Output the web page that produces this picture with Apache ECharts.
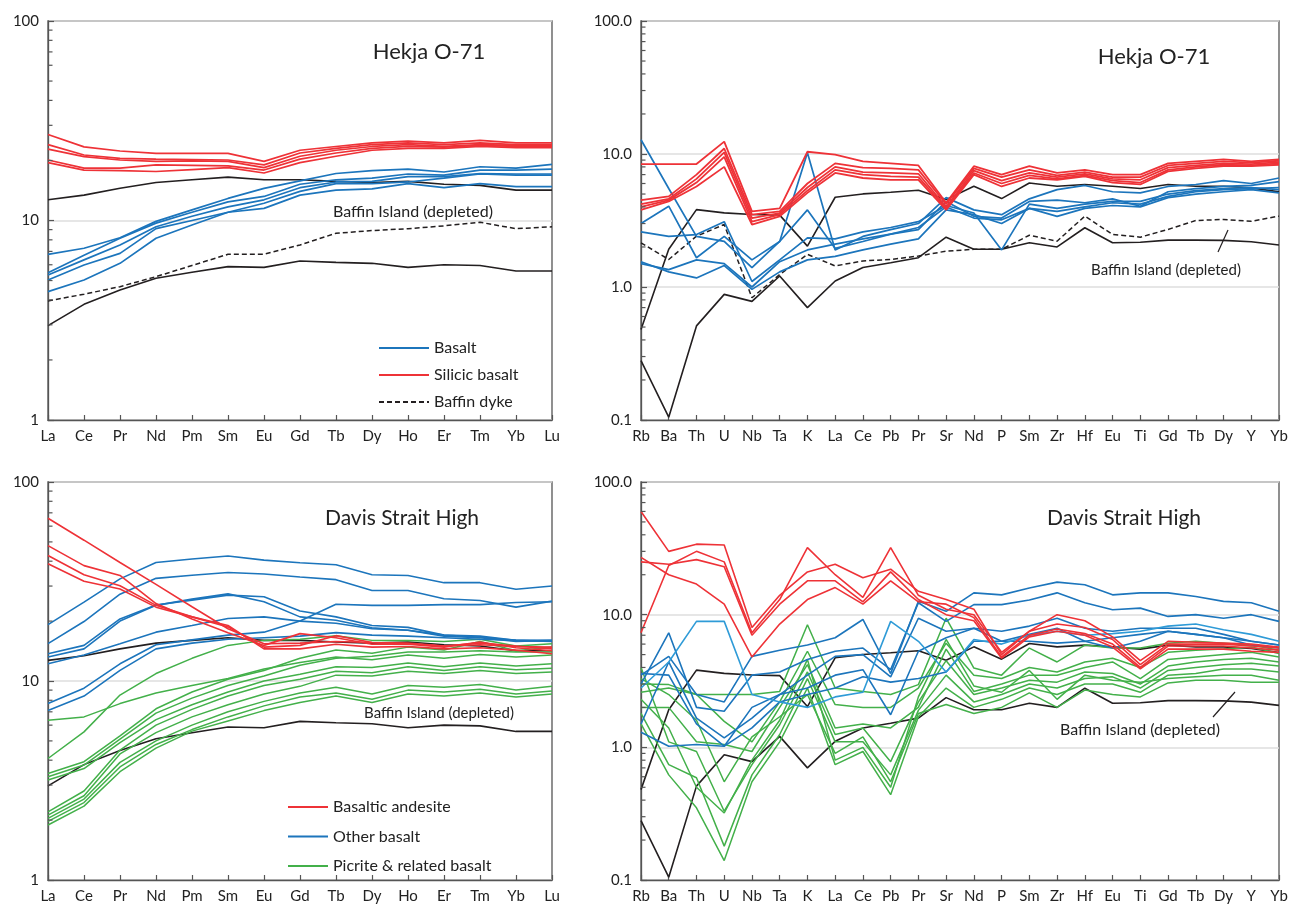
<!DOCTYPE html>
<html><head><meta charset="utf-8">
<script src="https://cdn.jsdelivr.net/npm/echarts@6/dist/echarts.min.js"></script>
<style>html,body{margin:0;padding:0;background:#fff}#c{width:1291px;height:907px}</style>
</head><body><div id="c"></div>
<script>
// ---------- categories ----------
const REE = ['La','Ce','Pr','Nd','Pm','Sm','Eu','Gd','Tb','Dy','Ho','Er','Tm','Yb','Lu'];
const SPIDER = ['Rb','Ba','Th','U','Nb','Ta','K','La','Ce','Pb','Pr','Sr','Nd','P','Sm','Zr','Hf','Eu','Ti','Gd','Tb','Dy','Y','Yb'];
const REE_TICKS = [1, 10, 100];
const SPIDER_TICKS = [0.1, 1, 10, 100];

// ---------- reference lines ----------
const baffinUpperRee = [12.7,13.4,14.5,15.5,16.0,16.5,16.0,16.0,15.7,15.5,15.7,15.2,15.0,14.2,14.2];
const baffinDepletedRee = [2.97,3.8,4.48,5.13,5.5,5.87,5.82,6.27,6.17,6.1,5.82,6.0,5.95,5.58,5.58];
const baffinUpperSpider = [0.48,1.92,3.82,3.61,3.51,3.47,2.03,4.73,5.01,5.16,5.34,4.54,5.72,4.62,6.06,5.72,5.89,5.72,5.5,5.89,5.72,5.72,5.56,5.19];
const baffinDepletedSpider = [0.28,0.105,0.51,0.88,0.78,1.21,0.70,1.11,1.40,1.52,1.66,2.37,1.92,1.92,2.15,2.0,2.79,2.15,2.17,2.25,2.25,2.24,2.19,2.07];
const baffinDykeRee = [3.95,4.27,4.66,5.23,5.95,6.77,6.77,7.54,8.63,8.9,9.1,9.4,9.8,9.1,9.3];
const baffinDykeSpider = [2.15,1.61,2.41,2.95,0.83,1.24,1.76,1.44,1.57,1.61,1.71,1.86,1.92,1.92,2.45,2.21,3.41,2.48,2.37,2.71,3.16,3.22,3.12,3.41];

// ---------- Hekja O-71 ----------
const hekjaReeBasalt = [
 [6.77,7.26,8.2,9.9,11.3,12.9,14.5,15.8,17.2,17.8,18.1,17.5,18.6,18.3,19.1],
 [5.47,6.7,8.15,9.7,11.0,12.4,13.2,15.2,16.0,16.3,17.1,16.9,17.9,17.9,18.1],
 [5.33,6.35,7.54,9.3,10.5,11.7,12.7,14.6,15.6,15.7,16.6,16.6,17.2,17.1,17.1],
 [5.03,5.98,6.84,9.1,10.0,11.0,12.2,14.0,15.3,15.3,15.6,16.3,17.1,16.9,16.9],
 [4.4,5.03,6.1,8.15,9.5,11.0,11.5,13.4,14.2,14.4,15.3,14.6,15.3,14.8,14.8]
];
const hekjaReeSilicic = [
 [27,23.4,22.3,21.7,21.7,21.7,19.8,22.5,23.5,24.5,25,24.5,25.2,24.5,24.5],
 [24,21.3,20.5,20.3,20.2,20.1,19.0,21.8,23,24,24.5,24,24.5,24,24],
 [22.8,20.9,20.1,19.8,19.9,19.8,18.4,21,22.5,23.5,24,23.5,24,23.8,23.8],
 [20.1,18.3,18.3,19.0,18.9,18.8,17.9,20.3,21.8,23,23.5,23.3,23.8,23.5,23.5],
 [19.5,17.9,17.8,17.6,18.0,18.4,17.3,19.5,21,22.5,23,23,23.5,23.2,23.2]
];
const hekjaSpiderBasalt = [
 [12.8,5.5,2.4,2.2,1.4,2.2,10.2,1.9,2.4,2.7,3.0,4.7,3.8,3.5,4.6,5.4,5.8,5.2,5.1,5.7,5.9,6.3,6.0,6.6],
 [3.0,4.05,1.66,2.4,1.6,2.2,3.8,1.95,2.2,2.5,2.7,4.4,3.4,3.3,4.4,4.5,4.3,4.6,4.05,5.2,5.5,5.7,5.8,6.2],
 [2.6,2.4,2.48,3.1,1.1,1.6,2.34,2.3,2.6,2.8,3.1,4.1,3.6,1.9,4.2,3.9,4.2,4.4,4.4,5.0,5.3,5.5,5.6,5.4],
 [1.5,1.35,1.6,1.5,1.0,1.55,1.9,2.1,2.3,2.5,2.8,4.0,3.3,3.2,3.9,3.7,4.0,4.3,4.2,4.8,5.2,5.4,5.5,5.6],
 [1.55,1.3,1.17,1.45,0.96,1.3,1.6,1.7,1.9,2.1,2.3,3.8,3.5,3.0,3.9,3.4,3.9,4.1,4.0,4.7,5.0,5.2,5.4,5.1]
];
const hekjaSpiderSilicic = [
 [8.4,8.4,8.4,12.4,3.7,3.9,10.4,9.9,8.8,8.5,8.2,4.3,8.1,7.0,8.1,7.2,7.6,7.0,7.0,8.5,8.8,9.1,8.8,9.1],
 [4.5,4.8,7.0,11.0,3.5,3.7,6.0,8.5,7.9,7.8,7.6,4.2,7.8,6.7,7.6,6.9,7.3,6.7,6.7,8.2,8.5,8.8,8.6,8.9],
 [4.2,4.6,6.5,10.3,3.3,3.6,5.6,8.0,7.3,7.2,7.1,4.0,7.5,6.3,7.2,6.7,7.1,6.5,6.4,7.9,8.2,8.5,8.4,8.7],
 [4.0,4.5,6.1,9.5,3.1,3.5,5.3,7.6,7.0,6.8,6.7,3.9,7.2,6.0,6.9,6.5,6.9,6.3,6.1,7.6,8.0,8.3,8.2,8.5],
 [3.8,4.4,5.7,8.0,2.95,3.4,5.1,7.2,6.6,6.4,6.4,3.8,7.0,5.7,6.6,6.4,6.8,6.1,5.9,7.4,7.8,8.1,8.1,8.3]
];

// ---------- Davis Strait High ----------
const davisReeAndesite = [
 [65.7,51,39.4,30.6,23.6,18.3,15.4,15.5,15.8,15.6,15.5,15.0,15.5,15.0,14.5],
 [47.9,38.0,33.9,24.5,20.5,17.5,15.1,17.3,16.5,15.3,15.3,14.8,15.7,14.7,14.2],
 [42.7,34.2,30.1,24.0,21.0,18.7,14.8,15.1,16.9,15.6,15.4,15.0,15.2,14.9,14.8],
 [38.8,31.7,29.0,23.5,21.0,19.0,14.5,14.5,15.3,14.8,14.9,14.5,14.7,14.3,13.7]
];
const davisReeOther = [
 [19.2,24.9,32.6,39.4,41,42.5,40.5,39.3,38.4,34.2,33.9,31.2,31.2,28.9,30.0],
 [15.4,19.9,27.3,32.8,34,35.1,34.5,33.3,32.3,28.5,28.5,25.9,25.4,23.5,25.2],
 [13.7,15.1,20.5,24.1,25.5,27.0,26.5,22.5,21.0,19.0,18.6,17.0,16.8,16.0,15.8],
 [13.2,14.5,20.0,24.0,25.8,27.4,25.0,21.0,20.2,18.5,18.0,16.8,16.5,15.8,16.0],
 [12.2,13.5,15.4,17.6,19.0,20.6,21.0,20.0,24.3,24.0,24.0,24.2,24.2,24.8,25.0],
 [7.7,9.2,12.2,15.2,16.1,17.0,17.6,20.0,19.5,18.3,18.0,17.0,16.6,16.0,15.9],
 [7.1,8.4,11.3,14.5,15.5,16.2,16.5,16.8,17.5,17.0,16.8,16.5,16.2,16.0,16.0]
];
const davisReePicrite = [
 [6.35,6.6,7.7,8.7,9.5,10.3,11.5,12.4,13.2,12.8,13.5,13.0,13.6,13.2,13.5],
 [4.08,5.55,8.5,10.9,13.0,15.1,16.0,16.2,16.9,16.0,16.0,15.8,16.2,15.0,15.4],
 [3.43,3.93,5.3,7.25,8.8,10.2,11.3,13.0,14.3,13.8,14.8,14.3,15.8,14.2,14.8],
 [3.3,3.78,5.1,6.9,8.2,9.5,10.6,12.0,13.0,13.3,14.0,14.0,14.2,14.0,14.0],
 [3.18,3.63,4.9,6.4,7.6,8.8,10.0,10.8,11.8,11.7,12.3,11.8,12.3,11.9,12.2],
 [2.20,2.8,4.5,6.0,7.2,8.4,9.5,10.2,11.2,11.0,11.8,11.3,11.8,11.4,11.6],
 [2.12,2.65,4.3,5.5,6.6,7.6,8.6,9.4,10.7,10.6,11.2,10.9,11.3,10.9,11.1],
 [2.04,2.55,3.9,5.0,6.0,7.0,7.9,8.7,9.3,8.6,9.5,9.3,9.6,9.0,9.4],
 [1.97,2.45,3.7,4.8,5.7,6.6,7.5,8.3,8.7,8.1,9.0,8.8,9.1,8.6,8.9],
 [1.89,2.35,3.5,4.6,5.6,6.3,7.1,7.8,8.4,7.8,8.6,8.4,8.7,8.3,8.6]
];
const davisSpiderAndesite = [
 [60,30,34,33.5,8.0,14,21,24,19,22,15,13,11,5.0,7.5,8.5,8.0,6.5,4.2,6.0,6.0,6.0,5.8,5.6],
 [27,20,17,12,4.8,8.5,13,16,12,18,12.5,12,9.5,4.8,7.0,7.8,7.2,6.0,4.0,5.8,5.8,5.8,5.6,5.4],
 [7.3,23.5,30,25,7.3,13,32,20,13.5,32,14,11,10,5.2,7.5,10,9.0,6.8,4.5,6.3,6.2,6.1,6.0,5.7],
 [25,24,26,23,7.0,12,18,18,12.5,21,13,10,9.0,4.7,6.8,7.5,7.0,5.7,3.9,5.5,5.5,5.5,5.3,5.2]
];
const davisSpiderOther = [
 [3.5,4.85,2.5,2.2,4.85,5.4,5.9,6.7,9.2,3.6,12.6,10.6,14.6,14.1,15.9,17.6,16.8,14.1,14.6,14.6,13.7,12.6,12.3,10.6],
 [3.0,7.3,2.0,1.87,3.5,3.7,4.6,5.3,5.6,3.85,12.3,8.9,11.9,11.9,12.9,14.6,12.3,10.9,11.2,9.7,10,9.4,10,8.9],
 [1.5,4.4,1.66,1.18,1.66,2.5,2.8,3.5,3.85,1.76,5.3,6.7,7.9,7.5,8.2,9.4,7.9,7.5,7.9,7.9,7.9,7.1,6.3,5.9],
 [3.6,3.5,1.5,1.02,1.4,2.2,2.5,2.8,3.4,3.1,3.3,3.7,6.3,6.3,7.1,7.9,6.3,6.7,7.1,7.5,7.1,6.7,5.9,5.6],
 [1.3,1.02,1.05,1.02,2.0,2.5,3.5,4.85,5.0,3.4,9.4,7.5,7.9,6.3,6.3,6.1,6.3,5.6,6.3,7.5,7.1,6.7,6.3,5.9]
];
const davisSpiderOtherLight = [
 [2.8,4.4,8.9,8.9,2.5,2.2,2.0,2.4,2.6,8.9,6.3,3.7,6.5,6.0,7.0,7.5,7.0,7.2,7.5,8.2,8.5,7.7,7.1,6.3]
];
const davisSpiderPicrite = [
 [3.0,2.97,2.5,2.5,2.5,2.64,8.4,2.8,2.64,2.5,2.97,9.4,3.96,3.5,5.6,4.4,5.9,5.6,5.6,6.1,6.3,6.1,5.9,5.4],
 [2.6,2.8,2.5,1.57,1.1,2.2,5.3,2.1,2.0,2.0,2.8,6.1,3.5,3.3,4.0,3.7,4.4,4.7,4.0,5.2,5.4,5.5,5.7,5.1],
 [2.0,2.0,1.1,1.05,0.93,2.0,4.2,1.4,1.5,1.4,2.0,5.5,2.64,3.0,3.5,3.5,4.0,4.4,3.3,4.6,4.8,5.0,5.2,4.8],
 [4.0,1.1,0.93,0.33,0.74,1.48,3.7,1.25,1.4,0.78,2.2,4.5,2.5,2.8,3.2,3.1,3.7,3.6,3.0,4.1,4.4,4.6,4.7,4.4],
 [1.8,0.74,0.59,0.18,0.62,1.25,3.3,1.1,1.1,0.62,1.9,3.5,2.2,2.5,3.0,2.8,3.3,3.4,2.8,3.8,4.0,4.2,4.3,4.1],
 [1.5,0.62,0.35,0.14,0.55,1.1,2.8,0.74,0.93,0.44,1.7,2.8,2.0,2.3,2.8,2.5,3.0,3.0,2.6,3.5,3.6,3.9,3.9,3.7],
 [3.3,2.5,1.6,0.55,1.2,1.7,2.5,0.9,1.2,0.55,1.8,2.1,1.8,2.0,2.57,2.0,2.7,2.5,2.4,3.06,3.2,3.2,3.1,3.1],
 [2.3,1.4,0.5,0.32,0.8,1.6,4.6,0.8,1.0,0.5,2.4,6.5,2.9,2.6,3.8,2.3,3.5,3.2,3.1,3.3,3.4,3.5,3.5,3.2]
];

// ---------- styling ----------
const FONT = 'Lato, "Open Sans", sans-serif';
const C = {blue:'#1c75bc', light:'#2f9bd7', red:'#ee3237', green:'#43b04a', black:'#231f20', axis:'#555', text:'#222'};

const chart = echarts.init(document.getElementById('c'), null, {renderer:'canvas'});

const gridDefs = [
  {left:48, top:21, width:504, height:399},
  {left:641, top:21, width:638, height:399},
  {left:48, top:482, width:504, height:398},
  {left:641, top:482, width:638, height:398}
];
const grid = gridDefs.map(g => Object.assign({show:true, borderColor:C.axis, borderWidth:1.3, containLabel:false}, g));
const xCats = [REE, SPIDER, REE, SPIDER];
const xAxis = xCats.map((cats,i)=>({
  gridIndex:i, type:'category', data:cats, boundaryGap:false,
  axisLine:{show:true, lineStyle:{color:C.axis, width:1.3}},
  axisTick:{show:true, inside:true, length:5, lineStyle:{color:C.axis, width:1.2}},
  axisLabel:{color:C.text, fontSize:15, fontFamily:FONT, margin:9, interval:0},
  splitLine:{show:false}
}));
const yRange = [REE_TICKS, SPIDER_TICKS, REE_TICKS, SPIDER_TICKS];
const yAxis = yRange.map((t,i)=>({
  gridIndex:i, type:'log', logBase:10, min:t[0], max:t[t.length-1],
  axisLine:{show:true, lineStyle:{color:C.axis, width:1.3}},
  axisTick:{show:true, inside:true, length:6, lineStyle:{color:C.axis, width:1.2}},
  axisLabel:{color:C.text, fontSize:15, fontFamily:FONT, margin:9,
    formatter: (i%2===1) ? (v=>Number(v).toFixed(1)) : (v=>String(Math.round(v)))},
  splitLine:{show:true, lineStyle:{color:'#dedede', width:1.5}}
}));

function group(arrs, name, color, idx, extra){
  extra = extra || {};
  return arrs.map(a=>({
    type:'line', name, xAxisIndex:idx, yAxisIndex:idx, data:a,
    symbol:'none', silent:true, animation:false, z: extra.z || 2,
    lineStyle:{color, width: extra.width || 1.6, type: extra.type || 'solid'},
    itemStyle:{color}
  }));
}
function minorTicks(idx, ticks){
  const data = [];
  for (let d = ticks[0]; d < ticks[ticks.length-1]*0.999; d *= 10)
    for (let k = 2; k <= 9; k++) data.push([0, +(k*d).toPrecision(3)]);
  return {type:'custom', xAxisIndex:idx, yAxisIndex:idx, silent:true, z:10, animation:false, data,
    renderItem:(p, api)=>{
      const pt = api.coord([api.value(0), api.value(1)]);
      return {type:'line', shape:{x1:pt[0], y1:pt[1], x2:pt[0]+4.5, y2:pt[1]}, style:{stroke:C.axis, lineWidth:1.2}};
    }};
}

const series = [].concat(
  group([baffinUpperRee, baffinDepletedRee], 'Baffin Island', C.black, 0, {width:1.6}),
  group([baffinDykeRee], 'Baffin dyke', C.black, 0, {type:[5,3], width:1.5}),
  group(hekjaReeBasalt, 'Basalt', C.blue, 0, {width:1.7}),
  group(hekjaReeSilicic, 'Silicic basalt', C.red, 0, {width:1.7}),
  minorTicks(0, REE_TICKS),

  group([baffinUpperSpider, baffinDepletedSpider], 'Baffin Island', C.black, 1, {width:1.6}),
  group([baffinDykeSpider], 'Baffin dyke', C.black, 1, {type:[5,3], width:1.5}),
  group(hekjaSpiderBasalt, 'Basalt', C.blue, 1, {width:1.7}),
  group(hekjaSpiderSilicic, 'Silicic basalt', C.red, 1, {width:1.8, z:3}),
  minorTicks(1, SPIDER_TICKS),

  group([baffinUpperRee, baffinDepletedRee], 'Baffin Island', C.black, 2, {width:1.6}),
  group(davisReePicrite, 'Picrite & related basalt', C.green, 2, {width:1.5}),
  group(davisReeOther, 'Other basalt', C.blue, 2, {width:1.6}),
  group(davisReeAndesite, 'Basaltic andesite', C.red, 2, {width:1.6}),
  minorTicks(2, REE_TICKS),

  group([baffinUpperSpider, baffinDepletedSpider], 'Baffin Island', C.black, 3, {width:1.6}),
  group(davisSpiderPicrite, 'Picrite & related basalt', C.green, 3, {width:1.5}),
  group(davisSpiderOther, 'Other basalt', C.blue, 3, {width:1.6}),
  group(davisSpiderOtherLight, 'Other basalt (light)', C.light, 3, {width:1.6}),
  group(davisSpiderAndesite, 'Basaltic andesite', C.red, 3, {width:1.6}),
  minorTicks(3, SPIDER_TICKS)
);

function txt(x, y, text, size){
  return {type:'text', x, y, silent:true, z:100,
    style:{text, fill:C.text, font: size+'px '+FONT, align:'center', verticalAlign:'middle', textAlign:'center', textVerticalAlign:'middle'}};
}
function seg(x1,y1,x2,y2){
  return {type:'line', silent:true, z:100, shape:{x1,y1,x2,y2}, style:{stroke:C.black, lineWidth:1.2}};
}

const legendBase = {orient:'vertical', itemHeight:14, selectedMode:false,
  itemStyle:{opacity:0, borderWidth:0},
  textStyle:{fontSize:16, color:C.text, fontFamily:FONT}};

const option = {
  backgroundColor:'#fff',
  animation:false,
  grid, xAxis, yAxis, series,
  legend:[
    Object.assign({}, legendBase, {data:['Basalt','Silicic basalt','Baffin dyke'], left:373, top:335, itemWidth:50, itemGap:11}),
    Object.assign({}, legendBase, {data:['Basaltic andesite','Other basalt','Picrite & related basalt'], left:282, top:794, itemWidth:40, itemGap:13.5})
  ],
  graphic:[
    txt(429, 52, 'Hekja O-71', 22),
    txt(413, 212, 'Baffin Island (depleted)', 16),
    txt(1154, 57, 'Hekja O-71', 22),
    txt(1166, 270, 'Baffin Island (depleted)', 15),
    seg(1218, 252, 1228, 230),
    txt(402, 518, 'Davis Strait High', 21),
    txt(439, 713, 'Baffin Island (depleted)', 15),
    txt(1124, 518, 'Davis Strait High', 21),
    txt(1140, 730, 'Baffin Island (depleted)', 16),
    seg(1213, 717, 1235, 692)
  ]
};
chart.setOption(option);
</script>
</body></html>
